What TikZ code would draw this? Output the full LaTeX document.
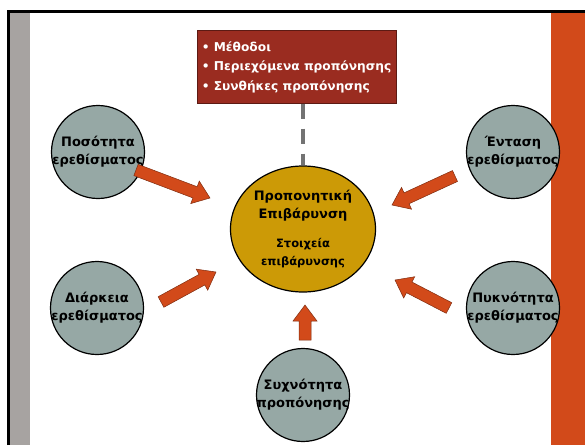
\documentclass[tikz,border=0pt]{standalone}
\usepackage{fontspec}
\setmainfont{DejaVu Sans}
\usetikzlibrary{shapes.geometric,calc}

\definecolor{factorgray}{HTML}{96A8A5}
\definecolor{loadgold}{HTML}{CC9A06}
\definecolor{boxred}{HTML}{9A2C20}
\definecolor{arroworange}{HTML}{D24A1A}
\definecolor{stripgray}{HTML}{A7A3A1}

% block arrow between two coordinates
\newcommand{\blockarrow}[2]{%
	\coordinate (neck) at ($(#2)!16pt!(#1)$);
	\filldraw[arrowbody] ($(#1)!6pt!90:(#2)$) -- ($(neck)!6pt!90:(#2)$)
		-- ($(neck)!12pt!90:(#2)$) -- (#2) -- ($(neck)!12pt!-90:(#2)$)
		-- ($(neck)!6pt!-90:(#2)$) -- ($(#1)!6pt!-90:(#2)$) -- cycle;
}

\begin{document}
\begin{tikzpicture}[
		x=1pt, y=-1pt,
		every node/.style={font=\fontsize{13}{18}\selectfont\bfseries},
		factor/.style={circle, draw, line width=1.2pt, fill=factorgray, minimum size=93pt, inner sep=0pt},
		load/.style={ellipse, draw, line width=1.2pt, fill=loadgold, minimum width=145pt, minimum height=126pt, inner sep=0pt, align=center},
		info/.style={draw=boxred!60!black, fill=boxred, text=white, minimum width=199pt, minimum height=73pt, align=left, inner xsep=3pt, font=\fontsize{12.2}{19.5}\selectfont\bfseries},
		arrowbody/.style={fill=arroworange, draw=arroworange!60!black, line width=0.5pt},
		dashline/.style={draw=black!55, line width=4pt, dash pattern=on 15pt off 10pt}
		]
		\useasboundingbox (0,0) rectangle (585,445);
		
		% Draw page frame
		\fill[stripgray] (10,13) rectangle (30,445);
		\fill[arroworange] (551,13) rectangle (585,445);
		\draw[line width=3pt] (8.5,445) -- (8.5,11.5) -- (585,11.5);
		
		% Draw info box and load
		\node[info] (methods) at (296.5,67) {• Μέθοδοι\\• Περιεχόμενα προπόνησης\\• Συνθήκες προπόνησης};
		\node[load] (load) at (303,229) {Προπονητική\\Επιβάρυνση\\[11pt]{\fontsize{11.5}{18}\selectfont Στοιχεία}\\{\fontsize{11.5}{18}\selectfont επιβάρυνσης}};
		\draw[dashline] (load.north |- methods.south) -- (load.north);
		
		% Draw factors
		\node[factor, label={[align=center]center:Ποσότητα\\ερεθίσματος}] (amount) at (98,152) {};
		\node[factor, label={[align=center]center:Ένταση\\ερεθίσματος}] (intensity) at (513,152) {};
		\node[factor, label={[align=center]center:Διάρκεια\\ερεθίσματος}] (duration) at (97,308) {};
		\node[factor, label={[align=center]center:Πυκνότητα\\ερεθίσματος}] (density) at (513,308) {};
		\node[factor, label={[align=center]center:Συχνότητα\\προπόνησης}] (frequency) at (303,395) {};
		
		% Add arrows towards the load
		\coordinate (amount-s) at (136,170);    \coordinate (amount-e) at (210,198);
		\coordinate (intensity-s) at (455,176); \coordinate (intensity-e) at (392,205);
		\coordinate (duration-s) at (161,302);  \coordinate (duration-e) at (216,272);
		\coordinate (density-s) at (449,308);   \coordinate (density-e) at (395,280);
		\coordinate (frequency-s) at (305,340); \coordinate (frequency-e) at (305,305);
		\foreach \x in {amount, intensity, duration, density, frequency} {
			\blockarrow{\x-s}{\x-e}
		}
		
	\end{tikzpicture}
\end{document}
